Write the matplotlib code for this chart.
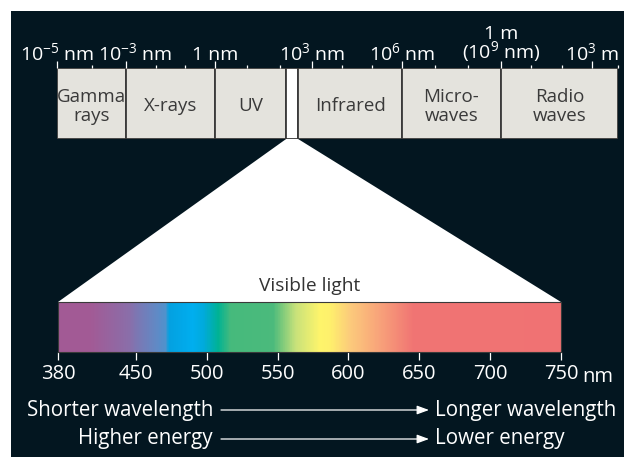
import numpy as np
import matplotlib
matplotlib.use('Agg')
import matplotlib.pyplot as plt
from matplotlib.patches import Rectangle, Polygon, FancyArrowPatch
from matplotlib.colors import LinearSegmentedColormap
from matplotlib.transforms import ScaledTranslation

plt.rcParams['font.family'] = ['Open Sans', 'DejaVu Sans']
plt.rcParams['mathtext.fontset'] = 'custom'
plt.rcParams['mathtext.rm'] = 'Open Sans'
plt.rcParams['mathtext.it'] = 'Open Sans:italic'
plt.rcParams['mathtext.bf'] = 'Open Sans:bold'

# ---------------- data ----------------
band_names = ['Gamma\nrays', 'X-rays', 'UV', '', 'Infrared', 'Micro-\nwaves', 'Radio\nwaves']
band_edges = [-5, -3, 0, 2.2, 2.57, 6, 9, 12.8]       # log10(wavelength / nm)
visible_band = 3                                       # index of the visible-light band
major_exp = [-5, -3, 0, 3, 6, 9, 12]
major_labels = [r'$\mathregular{10^{-5}}$ nm', r'$\mathregular{10^{-3}}$ nm', '1 nm',
                r'$\mathregular{10^{3}}$ nm', r'$\mathregular{10^{6}}$ nm',
                '1 m\n(' + r'$\mathregular{10^{9}}$' + ' nm)', r'$\mathregular{10^{3}}$ m']
minor_exp = [-4, -2, -1, 1, 2, 4, 5, 7, 8, 10, 11, 12.8]

vis_ticks = [380, 450, 500, 550, 600, 650, 700, 750]
vis_tick_labels = ['380', '450', '500', '550', '600', '650', '700', '750']

spec_nm = [380, 409, 444, 465, 471, 473, 490, 498, 508, 517, 547, 563, 580, 587,
           601, 621, 646, 750]
spec_colors = ['#A25A95', '#A25A95', '#8A6EA9', '#5F8AC6', '#4F92CC', '#03A0E0',
               '#00AEEF', '#00AADB', '#00B294', '#46BA7C', '#4BBA7C', '#C9E27A',
               '#FEF46B', '#FEF06C', '#FCCB7B', '#F8A47A', '#F07473', '#F07273']

# ---------------- layout / style ----------------
DARK = '#031620'
BOX = '#E4E3DD'
EDGE = '#3A3A3A'
FS_TOP = 14.0
FS_TICK = 14.5
FS_BOX = 13.5
FS_NOTE = 14.8

# drawing scale of the schematic spectrum axis (decade -> relative position)
top_knots_exp = [-5, -3, 0, 3, 6, 9, 12, 12.8]
top_knots_pos = [0, 69, 158, 255, 345, 444, 535, 561]
# compressed first interval of the visible axis
vis_knots_nm = [380, 450, 750]
vis_knots_pos = [0, 55, 355]

W, H = 624, 457
fig = plt.figure(figsize=(W / 100, H / 100), dpi=100, facecolor='white')

def fx(px):
    return px / W

def fy(py):
    return 1 - py / H

# dark background
fig.add_artist(Rectangle((fx(11), 0), 1, fy(11), transform=fig.transFigure,
                         facecolor=DARK, edgecolor='none', zorder=-10))

def piecewise(xk, yk):
    xk = np.asarray(xk, float)
    yk = np.asarray(yk, float)

    def f(x):
        x = np.asarray(x, float)
        y = np.interp(x, xk, yk)
        lo = x < xk[0]
        hi = x > xk[-1]
        s0 = (yk[1] - yk[0]) / (xk[1] - xk[0])
        s1 = (yk[-1] - yk[-2]) / (xk[-1] - xk[-2])
        y = np.where(lo, yk[0] + (x - xk[0]) * s0, y)
        y = np.where(hi, yk[-1] + (x - xk[-1]) * s1, y)
        return y
    return f

top_fwd = piecewise(top_knots_exp, top_knots_pos)
top_inv = piecewise(top_knots_pos, top_knots_exp)

# ---------------- top: electromagnetic spectrum ----------------
ax1 = fig.add_axes([fx(57), fy(139), fx(618) - fx(57), fy(68) - fy(139)])
ax1.set_facecolor('none')
ax1.set_xscale('function', functions=(top_fwd, top_inv))
lefts = band_edges[:-1]
widths = np.diff(band_edges)
colors = ['white' if i == visible_band else BOX for i in range(len(band_names))]
ax1.bar(lefts, 1, width=widths, align='edge', color=colors, edgecolor=EDGE, linewidth=1.3)
for l, r, name in zip(band_edges[:-1], band_edges[1:], band_names):
    if name:
        xm = float(top_inv((top_fwd(l) + top_fwd(r)) / 2))
        ax1.text(xm, 0.46, name, ha='center', va='center', fontsize=FS_BOX,
                 color=EDGE, linespacing=1.1)
ax1.set_xlim(band_edges[0], band_edges[-1])
ax1.set_ylim(0, 1)
for s in ax1.spines.values():
    s.set_visible(False)
ax1.set_yticks([])
ax1.xaxis.tick_top()
ax1.set_xticks(major_exp)
ax1.set_xticklabels(major_labels)
ax1.set_xticks(minor_exp, minor=True)
ax1.tick_params(axis='x', which='major', direction='out', length=5, width=0.9,
                color='white', labelcolor='white', labelsize=FS_TOP, pad=-2.4)
ax1.tick_params(axis='x', which='minor', direction='out', length=2.5, width=0.9,
                color='white')
top_lbls = ax1.get_xticklabels()
# the 10^-3 nm label sits a little right of its tick, as in the original
top_lbls[1].set_transform(top_lbls[1].get_transform()
                          + ScaledTranslation(9 / 100, 0, fig.dpi_scale_trans))
top_lbls[5].set_linespacing(0.8)

# ---------------- bottom: visible spectrum ----------------
ax2 = fig.add_axes([fx(58), fy(352), fx(561) - fx(58), fy(302) - fy(352)])
ax2.set_facecolor('none')
ax2.set_xscale('function', functions=(piecewise(vis_knots_nm, vis_knots_pos),
                                      piecewise(vis_knots_pos, vis_knots_nm)))
ax2.set_xlim(vis_ticks[0], vis_ticks[-1])
ax2.set_ylim(0, 1)
pos = [(v - spec_nm[0]) / (spec_nm[-1] - spec_nm[0]) for v in spec_nm]
cmap = LinearSegmentedColormap.from_list('visible', list(zip(pos, spec_colors)), N=1024)
xe = np.linspace(spec_nm[0], spec_nm[-1], 741)
xc = (xe[:-1] + xe[1:]) / 2
ax2.pcolormesh(xe, [0, 1], xc[None, :], cmap=cmap, vmin=spec_nm[0], vmax=spec_nm[-1],
               shading='flat')
for s in ax2.spines.values():
    s.set_color(EDGE)
    s.set_linewidth(0.8)
ax2.set_yticks([])
ax2.set_xticks(vis_ticks)
ax2.set_xticklabels(vis_tick_labels)
ax2.xaxis.set_minor_locator(matplotlib.ticker.NullLocator())
ax2.tick_params(axis='x', direction='out', length=5.8, width=0.9, color='white',
                labelcolor='white', labelsize=FS_TICK, pad=3)
ax2.annotate('nm', xy=(vis_ticks[-1], 0), xycoords=ax2.get_xaxis_transform(),
             xytext=(21, -29.5), textcoords='offset pixels', ha='left', va='baseline',
             fontsize=FS_TICK, color='white')
ax2.text(0.5, 1.22, 'Visible light', transform=ax2.transAxes, ha='center',
         va='baseline', fontsize=13.8, color='#333333')

# trapezoid connecting visible band to visible spectrum
inv_fig = fig.transFigure.inverted()
p_tl = inv_fig.transform(ax1.transData.transform((band_edges[visible_band], 0)))
p_tr = inv_fig.transform(ax1.transData.transform((band_edges[visible_band + 1], 0)))
p_bl = inv_fig.transform(ax2.transData.transform((vis_ticks[0], 1)))
p_br = inv_fig.transform(ax2.transData.transform((vis_ticks[-1], 1)))
fig.add_artist(Polygon([p_tl, p_tr, p_br, p_bl], closed=True, transform=fig.transFigure,
                       facecolor='white', edgecolor='none', zorder=-5))

# ---------------- wavelength / energy arrows ----------------
rows = [('Shorter wavelength', 'Longer wavelength', 416, 410),
        ('Higher energy', 'Lower energy', 444, 439)]
for left, right, ybase, yarr in rows:
    fig.text(fx(213), fy(ybase), left, ha='right', va='baseline', fontsize=FS_NOTE,
             color='white')
    fig.text(fx(435), fy(ybase), right, ha='left', va='baseline', fontsize=FS_NOTE,
             color='white')
    fig.add_artist(FancyArrowPatch((fx(221), fy(yarr)), (fx(429), fy(yarr)),
                                   transform=fig.transFigure,
                                   arrowstyle='-|>,head_length=0.6,head_width=0.22',
                                   mutation_scale=12, color='white', linewidth=0.9,
                                   shrinkA=0, shrinkB=0))

fig.savefig('out.png', dpi=100, facecolor='white')
